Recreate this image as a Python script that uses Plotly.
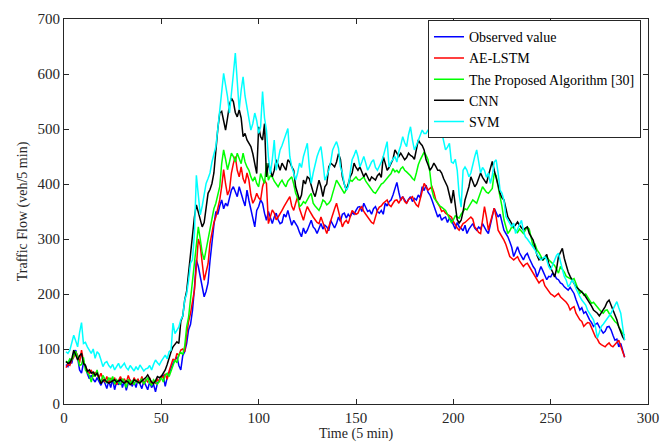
import plotly.graph_objects as go

observed = [
    72, 68, 78, 74, 92, 98, 84, 62, 56, 75, 70, 55,
    46, 52, 45, 40, 48, 42, 34, 44, 38, 28, 42, 30,
    45, 26, 40, 35, 48, 30, 42, 25, 38, 44, 32, 40,
    30, 45, 36, 28, 42, 34, 26, 40, 30, 36, 22, 38,
    45, 50, 52, 32, 48, 58, 65, 74, 80, 86, 70, 62,
    88, 95, 110, 135, 145, 170, 210, 262, 250, 230, 210, 195,
    205, 220, 260, 300, 325, 350, 345, 360, 371, 355, 365, 360,
    375, 389, 395, 385, 377, 395, 380, 371, 360, 389, 370, 353,
    335, 322, 352, 359, 371, 365, 347, 334, 350, 338, 328, 340,
    347, 335, 328, 330, 345, 340, 352, 338, 325, 334, 328, 322,
    312, 304, 320, 310, 316, 325, 334, 322, 318, 310, 320, 328,
    318, 325, 322, 315, 334, 328, 320, 328, 340, 332, 345, 347,
    338, 345, 340, 348, 345, 352, 358, 359, 350, 365, 358, 350,
    352, 345, 355, 359, 350, 347, 352, 345, 365, 360, 368, 371,
    380, 392, 403, 385, 370, 377, 370, 365, 372, 377, 368, 374,
    371, 380, 375, 395, 388, 398, 385, 380, 371, 360, 347, 340,
    345, 334, 338, 340, 330, 338, 334, 325, 318, 330, 322, 320,
    315, 325, 310, 318, 322, 328, 320, 316, 322, 318, 328, 320,
    315, 310, 325, 340, 356, 348, 340, 345, 330, 316, 310, 304,
    295, 285, 268, 278, 286, 275, 268, 262, 270, 274, 265, 256,
    250, 245, 231, 240, 250, 242, 235, 226, 232, 231, 238, 235,
    228, 226, 220, 218, 213, 210, 207, 212, 205, 201, 190, 180,
    171, 175, 165, 168, 160, 153, 148, 141, 145, 147, 140, 135,
    129, 132, 140, 141, 135, 125, 116, 118, 104, 110, 98, 85,
]

ae_lstm = [
    66, 72, 70, 80, 85, 95, 88, 75, 98, 78, 68, 60,
    55, 62, 50, 58, 52, 48, 56, 45, 40, 50, 38, 46,
    42, 48, 35, 44, 50, 40, 46, 38, 52, 42, 36, 48,
    40, 45, 38, 50, 36, 44, 40, 48, 35, 42, 38, 45,
    40, 52, 48, 55, 45, 60, 70, 82, 78, 92, 88, 98,
    100, 95, 125, 150, 165, 190, 207, 250, 300, 288, 250, 225,
    240, 255, 292, 310, 330, 340, 355, 371, 395, 426, 400, 380,
    389, 420, 437, 450, 425, 413, 431, 410, 401, 420, 407, 380,
    365, 372, 383, 375, 371, 395, 407, 401, 328, 340, 353, 347,
    335, 340, 345, 352, 359, 365, 372, 377, 360, 352, 365, 377,
    355, 345, 334, 348, 359, 352, 345, 340, 335, 330, 328, 340,
    330, 320, 310, 322, 334, 345, 355, 365, 350, 335, 322, 330,
    334, 328, 340, 352, 348, 345, 347, 355, 359, 350, 345, 340,
    335, 330, 328, 340, 352, 358, 360, 365, 368, 371, 362, 359,
    365, 370, 371, 365, 372, 377, 368, 365, 372, 375, 377, 368,
    362, 359, 375, 390, 401, 395, 389, 392, 395, 385, 371, 365,
    359, 350, 352, 347, 345, 342, 340, 332, 325, 320, 316, 322,
    328, 330, 334, 338, 340, 336, 322, 318, 312, 310, 340, 359,
    340, 316, 330, 345, 356, 340, 316, 310, 305, 298, 290, 278,
    268, 265, 262, 265, 268, 260, 255, 250, 254, 256, 250, 244,
    238, 232, 228, 220, 224, 226, 215, 210, 207, 200, 198, 195,
    198, 201, 195, 192, 189, 185, 180, 171, 175, 177, 165, 158,
    153, 150, 141, 145, 148, 147, 138, 129, 122, 118, 111, 108,
    106, 104, 108, 111, 106, 104, 108, 112, 116, 105, 95, 85,
]

proposed = [
    78, 75, 82, 80, 88, 96, 85, 70, 72, 85, 62, 58,
    52, 40, 55, 50, 62, 45, 40, 52, 46, 38, 48, 42,
    50, 36, 44, 40, 35, 46, 40, 30, 45, 38, 42, 35,
    44, 38, 40, 46, 36, 42, 48, 38, 34, 44, 40, 36,
    42, 48, 40, 52, 56, 50, 60, 72, 80, 75, 90, 94,
    90, 105, 140, 158, 190, 230, 255, 290, 322, 300, 275, 262,
    280, 298, 320, 340, 355, 365, 380, 395, 437, 462, 445, 426,
    440, 456, 450, 440, 456, 445, 437, 456, 440, 431, 425, 413,
    405, 413, 401, 395, 419, 410, 401, 438, 407, 415, 413, 405,
    400, 395, 402, 407, 400, 395, 405, 410, 413, 400, 383, 375,
    359, 362, 368, 365, 372, 378, 383, 365, 360, 355, 352, 360,
    371, 368, 362, 365, 370, 383, 395, 407, 401, 395, 388, 383,
    390, 398, 407, 405, 410, 413, 408, 407, 410, 413, 405, 400,
    395, 390, 385, 383, 388, 395, 400, 402, 407, 412, 415, 419,
    428, 422, 425, 420, 428, 431, 425, 422, 419, 415, 410, 407,
    420, 435, 444, 450, 458, 452, 444, 420, 389, 375, 370, 365,
    360, 358, 355, 352, 345, 338, 330, 335, 342, 340, 338, 345,
    350, 355, 353, 360, 365, 371, 368, 365, 375, 385, 395, 390,
    385, 383, 388, 392, 420, 415, 395, 380, 359, 335, 320, 310,
    315, 322, 320, 316, 312, 318, 314, 310, 316, 322, 318, 300,
    286, 290, 280, 275, 268, 262, 265, 268, 262, 258, 256, 252,
    245, 238, 250, 245, 240, 232, 230, 228, 226, 228, 220, 212,
    201, 205, 198, 200, 195, 190, 183, 185, 180, 177, 172, 168,
    165, 170, 171, 165, 160, 153, 150, 147, 140, 135, 128, 125,
]

cnn = [
    77, 74, 75, 82, 98, 90, 80, 88, 92, 74, 70, 59,
    62, 56, 58, 52, 56, 48, 37, 42, 44, 40, 38, 40,
    42, 44, 40, 42, 44, 40, 38, 42, 40, 35, 38, 44,
    42, 40, 38, 42, 45, 48, 53, 46, 40, 37, 42, 50,
    48, 50, 56, 62, 72, 86, 95, 104, 108, 113, 110, 150,
    160, 189, 205, 241, 275, 310, 340, 362, 350, 335, 322, 330,
    360, 383, 390, 401, 420, 468, 500, 529, 532, 515, 498, 520,
    544, 556, 550, 530, 522, 535, 520, 486, 492, 480, 475, 468,
    455, 440, 419, 504, 486, 480, 510, 413, 438, 425, 413, 425,
    444, 435, 425, 438, 430, 425, 444, 440, 431, 425, 395, 385,
    371, 380, 407, 400, 413, 410, 395, 385, 377, 390, 407, 395,
    377, 395, 400, 431, 438, 435, 431, 440, 455, 445, 413, 400,
    389, 400, 413, 420, 438, 430, 425, 431, 420, 413, 420, 413,
    405, 413, 410, 407, 415, 419, 412, 450, 438, 425, 430, 438,
    445, 462, 456, 450, 456, 450, 444, 448, 456, 452, 450, 445,
    460, 480, 474, 470, 462, 444, 435, 425, 430, 438, 432, 425,
    425, 420, 410, 401, 395, 380, 365, 389, 360, 335, 329, 334,
    350, 371, 383, 395, 413, 405, 395, 400, 410, 420, 412, 405,
    401, 415, 430, 441, 425, 413, 398, 383, 375, 371, 352, 340,
    334, 328, 322, 326, 331, 325, 320, 316, 320, 322, 310, 304,
    298, 285, 270, 262, 265, 262, 268, 272, 255, 248, 240, 231,
    245, 268, 275, 283, 265, 250, 240, 232, 225, 220, 213, 210,
    207, 203, 200, 195, 190, 183, 178, 171, 168, 165, 160, 165,
    170, 177, 185, 189, 180, 171, 165, 153, 140, 129, 122, 116,
]

svm = [
    95, 92, 98, 110, 125, 115, 104, 130, 148, 110, 112, 104,
    98, 92, 100, 83, 95, 91, 80, 68, 75, 77, 70, 66,
    72, 62, 68, 74, 65, 70, 74, 66, 62, 70, 64, 60,
    68, 62, 71, 66, 60, 64, 65, 70, 62, 72, 80, 75,
    71, 78, 85, 89, 82, 95, 98, 147, 128, 135, 140, 153,
    160, 189, 200, 225, 256, 262, 310, 416, 380, 344, 360, 380,
    401, 410, 420, 440, 455, 468, 500, 535, 575, 601, 580, 559,
    529, 560, 600, 638, 583, 535, 570, 595, 560, 541, 520, 498,
    510, 529, 515, 492, 504, 568, 520, 498, 449, 419, 444, 480,
    425, 445, 462, 470, 480, 490, 501, 450, 431, 420, 407, 420,
    438, 430, 450, 462, 474, 431, 401, 420, 438, 450, 460, 468,
    440, 407, 415, 425, 440, 462, 470, 477, 465, 431, 420, 400,
    389, 395, 420, 444, 452, 462, 450, 431, 440, 450, 438, 425,
    432, 440, 444, 430, 425, 432, 440, 450, 465, 477, 431, 440,
    445, 450, 440, 459, 470, 486, 475, 468, 490, 504, 480, 462,
    470, 480, 490, 498, 492, 492, 498, 500, 504, 510, 513, 508,
    501, 495, 480, 462, 467, 474, 440, 438, 445, 425, 380, 358,
    425, 431, 425, 413, 420, 438, 450, 462, 440, 420, 430, 425,
    412, 420, 401, 415, 440, 444, 420, 389, 383, 370, 341, 335,
    330, 322, 329, 310, 318, 325, 334, 315, 304, 300, 295, 292,
    286, 280, 272, 268, 262, 265, 268, 262, 250, 244, 252, 262,
    270, 274, 256, 245, 232, 225, 213, 218, 226, 220, 210, 201,
    195, 189, 185, 180, 170, 165, 160, 153, 140, 120, 130, 141,
    145, 150, 153, 160, 165, 172, 180, 186, 175, 165, 140, 116,
]

series_names = ["Observed value", "AE-LSTM", "The Proposed Algorithm [30]", "CNN", "SVM"]
series_data = [observed, ae_lstm, proposed, cnn, svm]
series_colors = ["#0000FF", "#FF0000", "#00FF00", "#000000", "#00FFFF"]

x_ticks = [0, 50, 100, 150, 200, 250, 300]
y_ticks = [0, 100, 200, 300, 400, 500, 600, 700]

SERIF = "Times New Roman, Liberation Serif, DejaVu Serif, serif"

fig = go.Figure()
for name, vals, col in zip(series_names, series_data, series_colors):
    fig.add_trace(go.Scatter(
        x=list(range(1, len(vals) + 1)), y=vals, mode="lines", name=name,
        line=dict(color=col, width=1.5)))

axis_style = dict(
    showgrid=False, zeroline=False, showline=True, linecolor="#262626",
    linewidth=1, mirror="ticks", ticks="inside", ticklen=5, tickcolor="#262626",
    tickfont=dict(family=SERIF, size=15, color="#262626"),
    automargin=False,
)

fig.update_layout(
    width=660, height=448,
    margin=dict(l=64, r=12, t=19, b=44),
    paper_bgcolor="white", plot_bgcolor="white",
    font=dict(family=SERIF, size=14, color="#262626"),
    xaxis=dict(range=[0, 300], tickvals=x_ticks,
               title=dict(text="Time (5 min)", standoff=3,
                          font=dict(family=SERIF, size=14, color="#262626")),
               **axis_style),
    yaxis=dict(range=[0, 700], tickvals=y_ticks,
               title=dict(text="Traffic Flow (veh/5 min)", standoff=6,
                          font=dict(family=SERIF, size=14, color="#262626")),
               **axis_style),
    legend=dict(x=0.988, y=0.997, xanchor="right", yanchor="top",
                bgcolor="white", bordercolor="#262626", borderwidth=1,
                font=dict(family=SERIF, size=14, color="#000000"),
                tracegroupgap=0, itemwidth=30),
    showlegend=True,
)

fig.write_html("out.html")
